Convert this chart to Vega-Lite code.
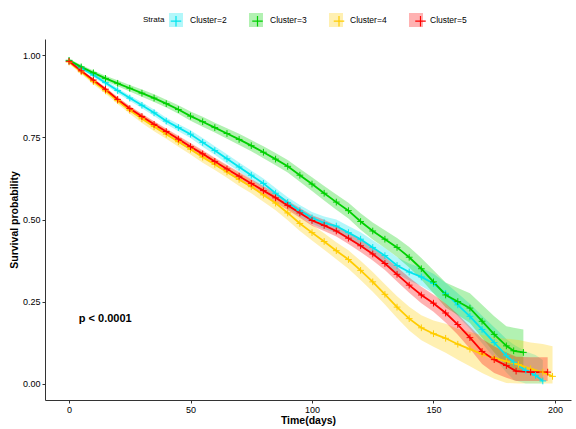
{
"$schema": "https://vega.github.io/schema/vega-lite/v6.json",
"width": 526, "height": 361,
"autosize": {"type": "none"},
"padding": {"left": 45, "top": 39, "right": 5, "bottom": 29},
"background": "white",
"config": {
  "view": {"stroke": null},
  "font": "Liberation Sans",
  "axis": {"grid": false, "domainColor": "#333333", "tickColor": "#333333", "tickSize": 3, "labelColor": "#000000", "labelFontSize": 9, "labelFont": "Liberation Sans", "titleFont": "Liberation Sans", "titleFontSize": 10.5, "titleFontWeight": "bold", "titleColor": "#000000", "labelPadding": 2, "labelFlush": false}
},
"datasets": {"km": [
{"c":"Cluster=2","t":0,"s":0.983,"lo":0.979,"hi":0.987},
{"c":"Cluster=2","t":5,"s":0.962,"lo":0.957,"hi":0.967},
{"c":"Cluster=2","t":10,"s":0.94,"lo":0.934,"hi":0.946},
{"c":"Cluster=2","t":15,"s":0.917,"lo":0.91,"hi":0.924},
{"c":"Cluster=2","t":20,"s":0.893,"lo":0.885,"hi":0.901},
{"c":"Cluster=2","t":25,"s":0.87,"lo":0.862,"hi":0.878},
{"c":"Cluster=2","t":30,"s":0.848,"lo":0.839,"hi":0.857},
{"c":"Cluster=2","t":35,"s":0.825,"lo":0.815,"hi":0.835},
{"c":"Cluster=2","t":40,"s":0.8,"lo":0.79,"hi":0.81},
{"c":"Cluster=2","t":45,"s":0.78,"lo":0.769,"hi":0.791},
{"c":"Cluster=2","t":50,"s":0.76,"lo":0.748,"hi":0.772},
{"c":"Cluster=2","t":55,"s":0.735,"lo":0.722,"hi":0.748},
{"c":"Cluster=2","t":60,"s":0.71,"lo":0.697,"hi":0.723},
{"c":"Cluster=2","t":65,"s":0.685,"lo":0.671,"hi":0.699},
{"c":"Cluster=2","t":70,"s":0.66,"lo":0.646,"hi":0.674},
{"c":"Cluster=2","t":75,"s":0.635,"lo":0.621,"hi":0.649},
{"c":"Cluster=2","t":80,"s":0.61,"lo":0.595,"hi":0.625},
{"c":"Cluster=2","t":85,"s":0.58,"lo":0.564,"hi":0.596},
{"c":"Cluster=2","t":90,"s":0.552,"lo":0.536,"hi":0.568},
{"c":"Cluster=2","t":95,"s":0.527,"lo":0.51,"hi":0.544},
{"c":"Cluster=2","t":100,"s":0.505,"lo":0.487,"hi":0.523},
{"c":"Cluster=2","t":105,"s":0.49,"lo":0.471,"hi":0.509},
{"c":"Cluster=2","t":110,"s":0.48,"lo":0.46,"hi":0.5},
{"c":"Cluster=2","t":115,"s":0.46,"lo":0.44,"hi":0.48},
{"c":"Cluster=2","t":120,"s":0.44,"lo":0.419,"hi":0.461},
{"c":"Cluster=2","t":125,"s":0.415,"lo":0.393,"hi":0.437},
{"c":"Cluster=2","t":130,"s":0.39,"lo":0.367,"hi":0.413},
{"c":"Cluster=2","t":135,"s":0.36,"lo":0.335,"hi":0.385},
{"c":"Cluster=2","t":140,"s":0.34,"lo":0.314,"hi":0.366},
{"c":"Cluster=2","t":145,"s":0.325,"lo":0.297,"hi":0.353},
{"c":"Cluster=2","t":150,"s":0.305,"lo":0.275,"hi":0.335},
{"c":"Cluster=2","t":155,"s":0.275,"lo":0.243,"hi":0.307},
{"c":"Cluster=2","t":160,"s":0.24,"lo":0.205,"hi":0.275},
{"c":"Cluster=2","t":165,"s":0.205,"lo":0.167,"hi":0.243},
{"c":"Cluster=2","t":170,"s":0.165,"lo":0.123,"hi":0.207},
{"c":"Cluster=2","t":175,"s":0.125,"lo":0.078,"hi":0.172},
{"c":"Cluster=2","t":180,"s":0.085,"lo":0.034,"hi":0.136},
{"c":"Cluster=2","t":183,"s":0.065,"lo":0.011,"hi":0.119},
{"c":"Cluster=2","t":188,"s":0.04,"lo":0,"hi":0.098},
{"c":"Cluster=2","t":192,"s":0.025,"lo":0,"hi":0.087},
{"c":"Cluster=2","t":195,"s":0.008,"lo":0,"hi":0.072},
{"c":"Cluster=3","t":0,"s":0.985,"lo":0.98,"hi":0.99},
{"c":"Cluster=3","t":5,"s":0.965,"lo":0.959,"hi":0.971},
{"c":"Cluster=3","t":10,"s":0.947,"lo":0.94,"hi":0.954},
{"c":"Cluster=3","t":15,"s":0.93,"lo":0.922,"hi":0.938},
{"c":"Cluster=3","t":20,"s":0.915,"lo":0.906,"hi":0.924},
{"c":"Cluster=3","t":25,"s":0.9,"lo":0.89,"hi":0.91},
{"c":"Cluster=3","t":30,"s":0.885,"lo":0.874,"hi":0.896},
{"c":"Cluster=3","t":35,"s":0.87,"lo":0.858,"hi":0.882},
{"c":"Cluster=3","t":40,"s":0.853,"lo":0.841,"hi":0.865},
{"c":"Cluster=3","t":45,"s":0.835,"lo":0.822,"hi":0.848},
{"c":"Cluster=3","t":50,"s":0.815,"lo":0.801,"hi":0.829},
{"c":"Cluster=3","t":55,"s":0.798,"lo":0.783,"hi":0.813},
{"c":"Cluster=3","t":60,"s":0.78,"lo":0.765,"hi":0.795},
{"c":"Cluster=3","t":65,"s":0.762,"lo":0.746,"hi":0.778},
{"c":"Cluster=3","t":70,"s":0.744,"lo":0.727,"hi":0.761},
{"c":"Cluster=3","t":75,"s":0.725,"lo":0.708,"hi":0.742},
{"c":"Cluster=3","t":80,"s":0.705,"lo":0.687,"hi":0.723},
{"c":"Cluster=3","t":85,"s":0.684,"lo":0.665,"hi":0.703},
{"c":"Cluster=3","t":90,"s":0.662,"lo":0.643,"hi":0.681},
{"c":"Cluster=3","t":95,"s":0.635,"lo":0.615,"hi":0.655},
{"c":"Cluster=3","t":100,"s":0.608,"lo":0.587,"hi":0.629},
{"c":"Cluster=3","t":105,"s":0.58,"lo":0.558,"hi":0.602},
{"c":"Cluster=3","t":110,"s":0.553,"lo":0.53,"hi":0.576},
{"c":"Cluster=3","t":115,"s":0.527,"lo":0.503,"hi":0.551},
{"c":"Cluster=3","t":120,"s":0.494,"lo":0.469,"hi":0.519},
{"c":"Cluster=3","t":125,"s":0.465,"lo":0.439,"hi":0.491},
{"c":"Cluster=3","t":130,"s":0.44,"lo":0.413,"hi":0.467},
{"c":"Cluster=3","t":135,"s":0.415,"lo":0.386,"hi":0.444},
{"c":"Cluster=3","t":140,"s":0.385,"lo":0.354,"hi":0.416},
{"c":"Cluster=3","t":145,"s":0.35,"lo":0.317,"hi":0.383},
{"c":"Cluster=3","t":150,"s":0.31,"lo":0.275,"hi":0.345},
{"c":"Cluster=3","t":155,"s":0.27,"lo":0.232,"hi":0.308},
{"c":"Cluster=3","t":160,"s":0.25,"lo":0.209,"hi":0.291},
{"c":"Cluster=3","t":165,"s":0.23,"lo":0.185,"hi":0.275},
{"c":"Cluster=3","t":170,"s":0.19,"lo":0.14,"hi":0.24},
{"c":"Cluster=3","t":175,"s":0.15,"lo":0.095,"hi":0.205},
{"c":"Cluster=3","t":180,"s":0.115,"lo":0.055,"hi":0.175},
{"c":"Cluster=3","t":183,"s":0.1,"lo":0.04,"hi":0.17},
{"c":"Cluster=3","t":187,"s":0.095,"lo":0.035,"hi":0.165},
{"c":"Cluster=4","t":0,"s":0.98,"lo":0.974,"hi":0.986},
{"c":"Cluster=4","t":5,"s":0.95,"lo":0.943,"hi":0.957},
{"c":"Cluster=4","t":10,"s":0.92,"lo":0.912,"hi":0.928},
{"c":"Cluster=4","t":15,"s":0.892,"lo":0.883,"hi":0.901},
{"c":"Cluster=4","t":20,"s":0.862,"lo":0.852,"hi":0.872},
{"c":"Cluster=4","t":25,"s":0.833,"lo":0.822,"hi":0.845},
{"c":"Cluster=4","t":30,"s":0.807,"lo":0.794,"hi":0.82},
{"c":"Cluster=4","t":35,"s":0.783,"lo":0.769,"hi":0.797},
{"c":"Cluster=4","t":40,"s":0.76,"lo":0.746,"hi":0.774},
{"c":"Cluster=4","t":45,"s":0.737,"lo":0.722,"hi":0.752},
{"c":"Cluster=4","t":50,"s":0.714,"lo":0.698,"hi":0.73},
{"c":"Cluster=4","t":55,"s":0.69,"lo":0.673,"hi":0.707},
{"c":"Cluster=4","t":60,"s":0.668,"lo":0.651,"hi":0.685},
{"c":"Cluster=4","t":65,"s":0.645,"lo":0.627,"hi":0.663},
{"c":"Cluster=4","t":70,"s":0.622,"lo":0.602,"hi":0.642},
{"c":"Cluster=4","t":75,"s":0.6,"lo":0.58,"hi":0.62},
{"c":"Cluster=4","t":80,"s":0.575,"lo":0.554,"hi":0.596},
{"c":"Cluster=4","t":85,"s":0.55,"lo":0.528,"hi":0.572},
{"c":"Cluster=4","t":90,"s":0.52,"lo":0.498,"hi":0.542},
{"c":"Cluster=4","t":95,"s":0.488,"lo":0.465,"hi":0.511},
{"c":"Cluster=4","t":100,"s":0.46,"lo":0.436,"hi":0.484},
{"c":"Cluster=4","t":105,"s":0.433,"lo":0.408,"hi":0.458},
{"c":"Cluster=4","t":110,"s":0.405,"lo":0.379,"hi":0.431},
{"c":"Cluster=4","t":115,"s":0.378,"lo":0.35,"hi":0.406},
{"c":"Cluster=4","t":120,"s":0.345,"lo":0.316,"hi":0.374},
{"c":"Cluster=4","t":125,"s":0.31,"lo":0.28,"hi":0.34},
{"c":"Cluster=4","t":130,"s":0.272,"lo":0.241,"hi":0.303},
{"c":"Cluster=4","t":135,"s":0.233,"lo":0.2,"hi":0.266},
{"c":"Cluster=4","t":140,"s":0.198,"lo":0.162,"hi":0.234},
{"c":"Cluster=4","t":145,"s":0.17,"lo":0.132,"hi":0.208},
{"c":"Cluster=4","t":150,"s":0.152,"lo":0.112,"hi":0.192},
{"c":"Cluster=4","t":155,"s":0.138,"lo":0.094,"hi":0.182},
{"c":"Cluster=4","t":160,"s":0.12,"lo":0.073,"hi":0.167},
{"c":"Cluster=4","t":165,"s":0.105,"lo":0.053,"hi":0.157},
{"c":"Cluster=4","t":170,"s":0.09,"lo":0.032,"hi":0.148},
{"c":"Cluster=4","t":175,"s":0.078,"lo":0.015,"hi":0.141},
{"c":"Cluster=4","t":180,"s":0.068,"lo":0.002,"hi":0.137},
{"c":"Cluster=4","t":185,"s":0.058,"lo":0,"hi":0.133},
{"c":"Cluster=4","t":190,"s":0.045,"lo":0,"hi":0.125},
{"c":"Cluster=4","t":195,"s":0.035,"lo":0,"hi":0.121},
{"c":"Cluster=4","t":199,"s":0.022,"lo":0,"hi":0.114},
{"c":"Cluster=5","t":0,"s":0.982,"lo":0.978,"hi":0.986},
{"c":"Cluster=5","t":5,"s":0.953,"lo":0.948,"hi":0.958},
{"c":"Cluster=5","t":10,"s":0.925,"lo":0.92,"hi":0.93},
{"c":"Cluster=5","t":15,"s":0.897,"lo":0.891,"hi":0.903},
{"c":"Cluster=5","t":20,"s":0.866,"lo":0.859,"hi":0.873},
{"c":"Cluster=5","t":25,"s":0.838,"lo":0.83,"hi":0.846},
{"c":"Cluster=5","t":30,"s":0.814,"lo":0.806,"hi":0.822},
{"c":"Cluster=5","t":35,"s":0.79,"lo":0.781,"hi":0.799},
{"c":"Cluster=5","t":40,"s":0.768,"lo":0.759,"hi":0.777},
{"c":"Cluster=5","t":45,"s":0.745,"lo":0.735,"hi":0.755},
{"c":"Cluster=5","t":50,"s":0.722,"lo":0.711,"hi":0.733},
{"c":"Cluster=5","t":55,"s":0.7,"lo":0.689,"hi":0.711},
{"c":"Cluster=5","t":60,"s":0.677,"lo":0.666,"hi":0.688},
{"c":"Cluster=5","t":65,"s":0.654,"lo":0.642,"hi":0.666},
{"c":"Cluster=5","t":70,"s":0.632,"lo":0.619,"hi":0.645},
{"c":"Cluster=5","t":75,"s":0.61,"lo":0.597,"hi":0.623},
{"c":"Cluster=5","t":80,"s":0.588,"lo":0.574,"hi":0.602},
{"c":"Cluster=5","t":85,"s":0.566,"lo":0.552,"hi":0.58},
{"c":"Cluster=5","t":90,"s":0.543,"lo":0.529,"hi":0.557},
{"c":"Cluster=5","t":95,"s":0.52,"lo":0.505,"hi":0.535},
{"c":"Cluster=5","t":100,"s":0.497,"lo":0.481,"hi":0.513},
{"c":"Cluster=5","t":105,"s":0.482,"lo":0.465,"hi":0.499},
{"c":"Cluster=5","t":110,"s":0.465,"lo":0.448,"hi":0.482},
{"c":"Cluster=5","t":115,"s":0.443,"lo":0.425,"hi":0.461},
{"c":"Cluster=5","t":120,"s":0.42,"lo":0.401,"hi":0.439},
{"c":"Cluster=5","t":125,"s":0.395,"lo":0.375,"hi":0.415},
{"c":"Cluster=5","t":130,"s":0.366,"lo":0.346,"hi":0.386},
{"c":"Cluster=5","t":135,"s":0.333,"lo":0.311,"hi":0.355},
{"c":"Cluster=5","t":140,"s":0.3,"lo":0.277,"hi":0.323},
{"c":"Cluster=5","t":145,"s":0.27,"lo":0.245,"hi":0.295},
{"c":"Cluster=5","t":150,"s":0.245,"lo":0.219,"hi":0.271},
{"c":"Cluster=5","t":155,"s":0.215,"lo":0.186,"hi":0.244},
{"c":"Cluster=5","t":160,"s":0.18,"lo":0.149,"hi":0.211},
{"c":"Cluster=5","t":165,"s":0.14,"lo":0.106,"hi":0.174},
{"c":"Cluster=5","t":170,"s":0.098,"lo":0.06,"hi":0.136},
{"c":"Cluster=5","t":175,"s":0.073,"lo":0.032,"hi":0.114},
{"c":"Cluster=5","t":180,"s":0.055,"lo":0.018,"hi":0.095},
{"c":"Cluster=5","t":184,"s":0.038,"lo":0.008,"hi":0.082},
{"c":"Cluster=5","t":190,"s":0.035,"lo":0.008,"hi":0.08},
{"c":"Cluster=5","t":197,"s":0.035,"lo":0.008,"hi":0.08}
]},
"encoding": {
  "x": {"field": "t", "type": "quantitative", "scale": {"domain": [-9.9, 206.6], "nice": false, "zero": false}, "axis": {"title": "Time(days)", "values": [0, 50, 100, 150, 200], "titlePadding": 1}},
  "y": {"field": "s", "type": "quantitative", "scale": {"domain": [-0.05, 1.05], "nice": false, "zero": false}, "axis": {"title": "Survival probability", "values": [0, 0.25, 0.5, 0.75, 1], "format": ".2f", "titlePadding": 3}}
},
"layer": [
  {"data": {"name": "km"}, "mark": {"type": "area", "opacity": 0.3},
   "encoding": {
     "y": {"field": "lo", "type": "quantitative", "scale": {"domain": [-0.05, 1.05], "nice": false, "zero": false}, "axis": {"title": "Survival probability", "values": [0, 0.25, 0.5, 0.75, 1], "format": ".2f", "titlePadding": 3}},
     "y2": {"field": "hi"},
     "fill": {"field": "c", "type": "nominal", "scale": {"domain": ["Cluster=2", "Cluster=3", "Cluster=4", "Cluster=5"], "range": ["#00E5EE", "#00D000", "#FFCC00", "#FF0000"]},
       "legend": {"orient": "none", "legendX": 98, "legendY": -26, "direction": "horizontal", "title": "Strata", "titleOrient": "left", "titleAnchor": "middle", "titleBaseline": "middle", "titleFontSize": 8, "titleFontWeight": "normal", "titleColor": "#000000", "titlePadding": 4, "symbolType": "square", "symbolSize": 196, "symbolOpacity": 0.3, "symbolStrokeWidth": 0, "labelFontSize": 8.5, "labelColor": "#000000", "labelOffset": 7, "columnPadding": 22, "padding": 0}}
   }},
  {"data": {"name": "km"}, "mark": {"type": "line", "strokeWidth": 1.8},
   "encoding": {
     "stroke": {"field": "c", "type": "nominal", "scale": {"range": ["#00E5EE", "#00D000", "#FFCC00", "#FF0000"]},
       "legend": {"orient": "none", "legendX": 123, "legendY": -26, "direction": "horizontal", "title": null, "symbolType": "M-0.75,0H0.75M0,-0.75V0.75", "symbolSize": 196, "symbolOpacity": 1, "symbolStrokeWidth": 1.2, "symbolFillColor": "transparent", "labelExpr": "''", "labelFontSize": 8.5, "labelOffset": 0, "columnPadding": 65.5, "padding": 0}}
   }},
  {"data": {"name": "km"}, "mark": {"type": "point", "shape": "M-1,0H1M0,-1V1", "filled": false, "size": 45, "strokeWidth": 1, "opacity": 1},
   "encoding": {
     "stroke": {"field": "c", "type": "nominal", "scale": {"range": ["#00E5EE", "#00D000", "#FFCC00", "#FF0000"]},
       "legend": {"orient": "none", "legendX": 123, "legendY": -26, "direction": "horizontal", "title": null, "symbolType": "M-0.75,0H0.75M0,-0.75V0.75", "symbolSize": 196, "symbolOpacity": 1, "symbolStrokeWidth": 1.2, "symbolFillColor": "transparent", "labelExpr": "''", "labelFontSize": 8.5, "labelOffset": 0, "columnPadding": 65.5, "padding": 0}}
   }},
  {"data": {"values": [{"t": 4, "s": 0.196, "label": "p < 0.0001"}]},
   "mark": {"type": "text", "align": "left", "baseline": "middle", "fontSize": 11, "fontWeight": "bold", "font": "Liberation Sans", "color": "#000000"},
   "encoding": {"text": {"field": "label", "type": "nominal"}}}
]
}
